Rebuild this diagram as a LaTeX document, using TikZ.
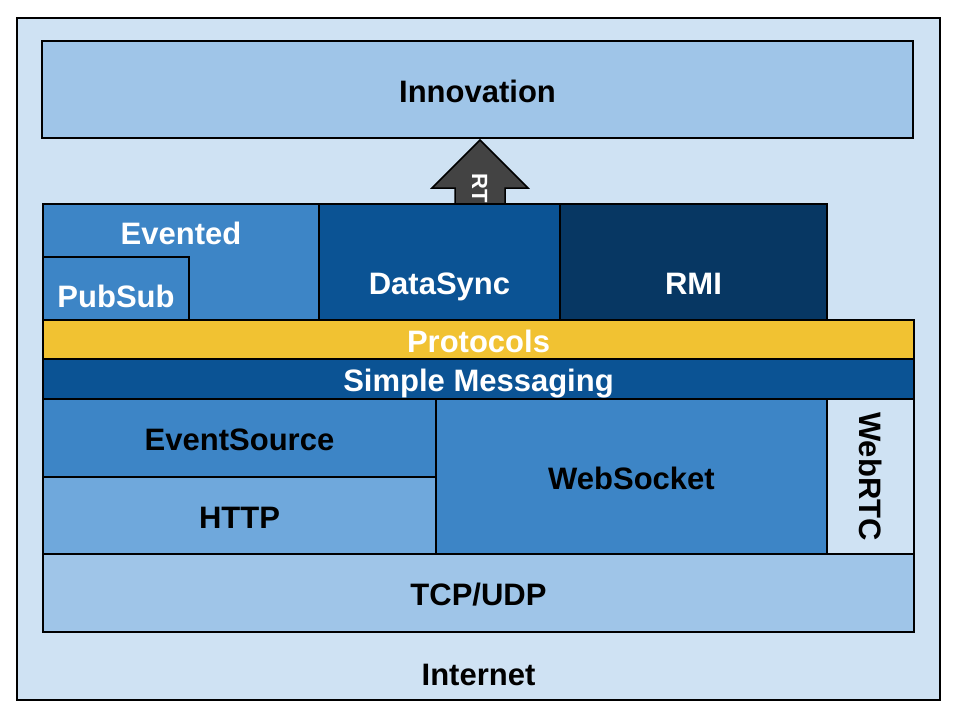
\documentclass[tikz,border=0pt]{standalone}
\usepackage{fontspec}
\setmainfont{Liberation Sans}
\usetikzlibrary{positioning, calc}

\definecolor{paleblue}{HTML}{CFE2F3}
\definecolor{softblue}{HTML}{9FC5E8}
\definecolor{skyblue}{HTML}{6FA8DC}
\definecolor{midblue}{HTML}{3D85C6}
\definecolor{deepblue}{HTML}{0B5394}
\definecolor{navyblue}{HTML}{073763}
\definecolor{gold}{HTML}{F1C232}
\definecolor{arrowgray}{HTML}{434343}

\begin{document}
\begin{tikzpicture}[
  x=1pt, y=-1pt,
  every node/.style={font=\fontsize{31}{36}\selectfont\bfseries, text height=25.2pt, text depth=0pt},
  layer/.style={draw, line width=1.5pt, inner sep=0pt, outer sep=0pt, anchor=north west},
  dims/.style 2 args={minimum width=#1pt, minimum height=#2pt},
  light/.style={text=white},
]
  \useasboundingbox (0,0) rectangle (960,720);

  % outer frame
  \node[layer, fill=paleblue, dims={923}{682}] (internet) at (17,18) {};
  \node (internetlbl) at ($(internet.south)+(0,-27.4)$) {Internet};

  \node[layer, fill=softblue, dims={871}{97}] (innovation) at (42,41) {Innovation};

  % arrow up to innovation
  \coordinate (tip) at (480,140);
  \filldraw[fill=arrowgray, line width=1.5pt] (tip) -- ++(48,48) -- ++(-23,0) -- ++(0,17)
    -- ++(-50,0) -- ++(0,-17) -- ++(-23,0) -- cycle;
  \node[light, rotate=-90, font=\fontsize{22}{26}\selectfont\bfseries, text height=15.8pt] (rt) at (480,188) {RT};

  % top row
  \node[layer, fill=midblue, dims={276}{116}] (evented) at (43,204) {};
  \node[layer, fill=midblue, dims={146}{63}, anchor=south west] (pubsub) at (evented.south west) {};
  \node[layer, fill=deepblue, dims={241}{116}, right=0pt of evented] (datasync) {};
  \node[layer, fill=navyblue, dims={267}{116}, right=0pt of datasync] (rmi) {};

  \node[light] (eventedlbl) at ($(evented.north)+(0,27.6)$) {Evented};
  \node[light] (pubsublbl) at ($(pubsub.center)+(0,6.6)$) {PubSub};
  \node[light] (datasynclbl) at ($(datasync.center)+(0,19.9)$) {DataSync};
  \node[light] (rmilbl) at ($(rmi.center)+(0,19.9)$) {RMI};

  % bands
  \node[layer, fill=gold, light, dims={871}{39}, below right=0pt and 0pt of evented.south west] (protocols) {Protocols};
  \node[layer, fill=deepblue, light, dims={871}{40}, below right=0pt and 0pt of protocols.south west] (messaging) {Simple Messaging};

  % transports
  \node[layer, fill=midblue, dims={393}{78}, below right=0pt and 0pt of messaging.south west] (eventsource) {EventSource};
  \node[layer, fill=skyblue, dims={393}{77}, below right=0pt and 0pt of eventsource.south west] (http) {HTTP};
  \node[layer, fill=midblue, dims={391}{155}, below right=0pt and 0pt of eventsource.north east] (websocket) {WebSocket};
  \node[layer, fill=paleblue, dims={87}{155}, right=0pt of websocket] (webrtc) {};
  \node[rotate=-90] (webrtclbl) at ($(webrtc)+(1.5,0)$) {WebRTC};

  \node[layer, fill=softblue, dims={871}{78}, below right=0pt and 0pt of http.south west] (tcpudp) {TCP/UDP};
\end{tikzpicture}
\end{document}
